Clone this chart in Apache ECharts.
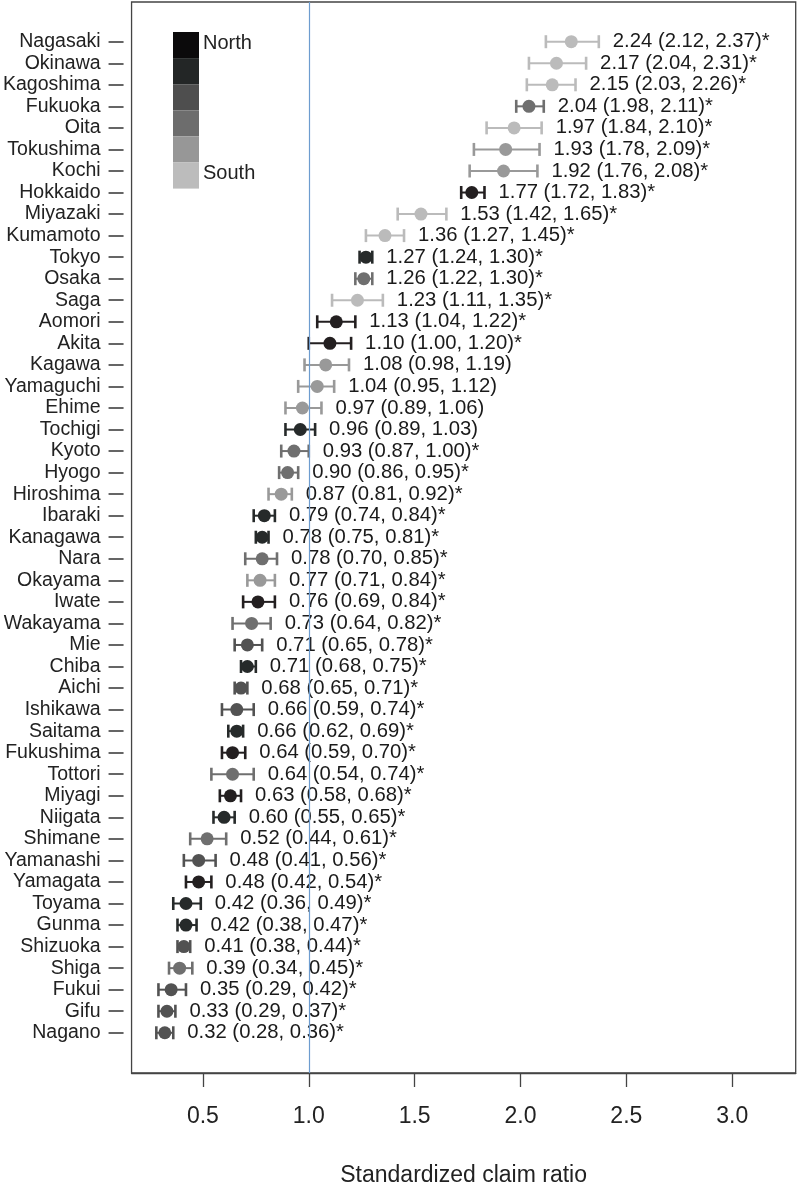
<!DOCTYPE html>
<html>
<head>
<meta charset="utf-8">
<script src="https://cdn.jsdelivr.net/npm/echarts@6/dist/echarts.min.js"></script>
<style>
  html, body { margin: 0; padding: 0; background: #fff; }
  #main { width: 800px; height: 1193px; }
</style>
</head>
<body>
<div id="main"></div>
<script>
// 都道府県（上から順）
var prefectures = ['Nagasaki', 'Okinawa', 'Kagoshima', 'Fukuoka', 'Oita', 'Tokushima', 'Kochi', 'Hokkaido',
  'Miyazaki', 'Kumamoto', 'Tokyo', 'Osaka', 'Saga', 'Aomori', 'Akita', 'Kagawa', 'Yamaguchi', 'Ehime',
  'Tochigi', 'Kyoto', 'Hyogo', 'Hiroshima', 'Ibaraki', 'Kanagawa', 'Nara', 'Okayama', 'Iwate', 'Wakayama',
  'Mie', 'Chiba', 'Aichi', 'Ishikawa', 'Saitama', 'Fukushima', 'Tottori', 'Miyagi', 'Niigata', 'Shimane',
  'Yamanashi', 'Yamagata', 'Toyama', 'Gunma', 'Shizuoka', 'Shiga', 'Fukui', 'Gifu', 'Nagano']

// 点推定値
var ratio = [2.24, 2.17, 2.15, 2.04, 1.97, 1.93, 1.92, 1.77, 1.53, 1.36, 1.27, 1.26, 1.23, 1.13, 1.10, 1.08,
  1.04, 0.97, 0.96, 0.93, 0.90, 0.87, 0.79, 0.78, 0.78, 0.77, 0.76, 0.73, 0.71, 0.71, 0.68, 0.66, 0.66,
  0.64, 0.64, 0.63, 0.60, 0.52, 0.48, 0.48, 0.42, 0.42, 0.41, 0.39, 0.35, 0.33, 0.32]

// 95%信頼区間 下限
var lower = [2.12, 2.04, 2.03, 1.98, 1.84, 1.78, 1.76, 1.72, 1.42, 1.27, 1.24, 1.22, 1.11, 1.04, 1.00, 0.98,
  0.95, 0.89, 0.89, 0.87, 0.86, 0.81, 0.74, 0.75, 0.70, 0.71, 0.69, 0.64, 0.65, 0.68, 0.65, 0.59, 0.62,
  0.59, 0.54, 0.58, 0.55, 0.44, 0.41, 0.42, 0.36, 0.38, 0.38, 0.34, 0.29, 0.29, 0.28]

// 95%信頼区間 上限
var upper = [2.37, 2.31, 2.26, 2.11, 2.10, 2.09, 2.08, 1.83, 1.65, 1.45, 1.30, 1.30, 1.35, 1.22, 1.20, 1.19,
  1.12, 1.06, 1.03, 1.00, 0.95, 0.92, 0.84, 0.81, 0.85, 0.84, 0.84, 0.82, 0.78, 0.75, 0.71, 0.74, 0.69,
  0.70, 0.74, 0.68, 0.65, 0.61, 0.56, 0.54, 0.49, 0.47, 0.44, 0.45, 0.42, 0.37, 0.36]

// 有意かどうか（*）
var significant = [1, 1, 1, 1, 1, 1, 1, 1, 1, 1, 1, 1, 1, 1, 1, 0, 0, 0, 0, 1, 1, 1, 1, 1, 1, 1, 1, 1,
  1, 1, 1, 1, 1, 1, 1, 1, 1, 1, 1, 1, 1, 1, 1, 1, 1, 1, 1]

// 地域の段階 1=北 ... 6=南
var region = [6, 6, 6, 4, 6, 5, 5, 1, 6, 6, 2, 4, 6, 1, 1, 5, 5, 5, 2, 4, 4, 5, 2, 2, 4, 5, 1, 4,
  3, 2, 3, 3, 2, 1, 4, 1, 2, 4, 3, 1, 2, 2, 3, 4, 3, 3, 3]

// x軸目盛
var xTicks = [0.5, 1.0, 1.5, 2.0, 2.5, 3.0]

var legendLabels = ['North', '', '', '', '', 'South']
var shades = ['#0b0a0b', '#232626', '#4e4e4e', '#6d6d6d', '#979797', '#bcbcbc']
var markColors = ['#231f20', '#262a2a', '#525252', '#6f6f6f', '#999999', '#bbbbbb']

var n = prefectures.length
var yTicks = []
for (var i = 1; i <= n; i++) yTicks.push(i)

var rows = prefectures.map(function (p, i) {
  var txt = ratio[i].toFixed(2) + ' (' + lower[i].toFixed(2) + ', ' + upper[i].toFixed(2) + ')' + (significant[i] ? '*' : '')
  return [lower[i], upper[i], n - i, markColors[region[i] - 1], txt]
})

var points = prefectures.map(function (p, i) {
  return { value: [ratio[i], n - i], itemStyle: { color: markColors[region[i] - 1], opacity: 1 } }
})

// 凡例（グラデーション）
var legendEls = []
shades.forEach(function (c, k) {
  legendEls.push({ type: 'rect', left: 173, top: 32 + k * 26.1, shape: { width: 26, height: 26.1 }, style: { fill: c } })
  if (legendLabels[k]) {
    legendEls.push({ type: 'text', left: 203, top: 32 + k * 26.1 + 1, style: { text: legendLabels[k], fill: '#222', font: '20px "Liberation Sans", Arial, sans-serif' } })
  }
})

var myChart = echarts.init(document.getElementById('main'))

var option = {
  animation: false,
  backgroundColor: '#fff',
  grid: {
    left: 131, right: 4.3, top: 2, bottom: 120,
    show: true, borderColor: '#444', borderWidth: 1.3
  },
  xAxis: {
    type: 'value',
    min: 0.163,
    max: 3.30,
    name: 'Standardized claim ratio',
    nameLocation: 'middle',
    nameGap: 91,
    nameTextStyle: { color: '#222', fontSize: 23, fontFamily: 'Liberation Sans' },
    axisLine: { show: true, onZero: false, lineStyle: { color: '#444', width: 1.3 } },
    axisTick: { show: true, length: 14, customValues: xTicks, lineStyle: { color: '#444', width: 1.3 } },
    axisLabel: {
      customValues: xTicks, margin: 32, color: '#222', fontSize: 23, fontFamily: 'Liberation Sans',
      formatter: function (v) { return v.toFixed(1) }
    },
    splitLine: { show: false }
  },
  yAxis: {
    type: 'value',
    min: -0.867,
    max: 48.843,
    offset: 8,
    axisLine: { show: false, onZero: false },
    axisTick: { show: true, length: 15, customValues: yTicks, lineStyle: { color: '#333', width: 1.5 } },
    axisLabel: {
      customValues: yTicks, margin: 23, color: '#222', fontSize: 19.5, fontFamily: 'Liberation Sans',
      formatter: function (v) { return prefectures[n - Math.round(v)] || '' }
    },
    splitLine: { show: false }
  },
  graphic: legendEls,
  series: [
    {
      // x=1.0 の基準線
      type: 'line',
      data: [],
      markLine: {
        silent: true,
        symbol: 'none',
        label: { show: false },
        lineStyle: { color: '#6d9ccf', width: 1.2, type: 'solid' },
        data: [{ xAxis: 1.0 }]
      }
    },
    {
      // 信頼区間と数値ラベル
      type: 'custom',
      data: rows,
      renderItem: function (params, api) {
        var lo = api.coord([api.value(0), api.value(2)])
        var hi = api.coord([api.value(1), api.value(2)])
        var color = rows[params.dataIndex][3]
        var txt = rows[params.dataIndex][4]
        var h = 6.5
        return {
          type: 'group',
          children: [
            { type: 'line', shape: { x1: lo[0], y1: lo[1], x2: hi[0], y2: hi[1] }, style: { stroke: color, lineWidth: 2 } },
            { type: 'line', shape: { x1: lo[0], y1: lo[1] - h, x2: lo[0], y2: lo[1] + h }, style: { stroke: color, lineWidth: 2.6 } },
            { type: 'line', shape: { x1: hi[0], y1: hi[1] - h, x2: hi[0], y2: hi[1] + h }, style: { stroke: color, lineWidth: 2.6 } },
            {
              type: 'text', x: hi[0] + 14, y: hi[1],
              style: { text: txt, fill: '#1a1a1a', font: '20.3px "Liberation Sans", Arial, sans-serif', textAlign: 'left', textVerticalAlign: 'middle' }
            }
          ]
        }
      },
      z: 2
    },
    {
      type: 'scatter',
      data: points,
      symbol: 'circle',
      symbolSize: 13,
      itemStyle: { opacity: 1 },
      z: 3
    }
  ]
}

myChart.setOption(option)
</script>
</body>
</html>
